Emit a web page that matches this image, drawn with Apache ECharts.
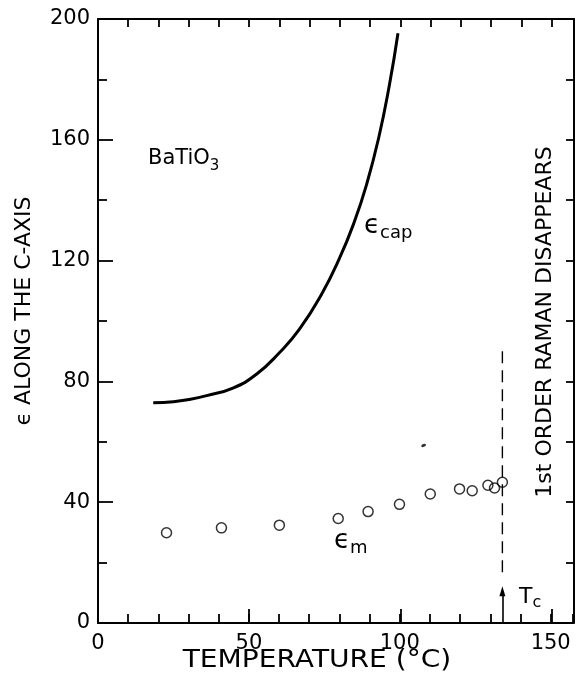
<!DOCTYPE html>
<html>
<head>
<meta charset="utf-8">
<script src="https://cdn.jsdelivr.net/npm/echarts@6/dist/echarts.min.js"></script>
<style>
  html, body { margin: 0; padding: 0; background: #fff; }
  #chart { width: 576px; height: 685px; }
</style>
</head>
<body>
<div id="chart"></div>
<script>
// capacitance curve (eps_cap)
const capTemp = [18.3, 25, 30, 36, 44.7, 52.4, 60.1, 66.7, 74, 80, 85, 89, 93, 96.5, 99.4]
const capEps = [72.9, 73.3, 74, 75.3, 77.8, 82.3, 89.5, 97.2, 108.7, 120.7, 133, 145.2, 160.6, 177.8, 195.3]

// eps_m open circles
const mTemp = [22.7, 40.9, 60.1, 79.6, 89.5, 99.9, 110.1, 119.8, 124, 129.2, 131.4, 134]
const mEps = [29.9, 31.5, 32.4, 34.6, 36.9, 39.3, 42.7, 44.4, 43.8, 45.6, 44.7, 46.6]

// stray speck in the figure
const speck = [[107.9, 58.8]]

const tc = 134
const ramanLine = [90, 15]
const tcArrow = [0, 10.5]

const xMax = 157.4
const yMax = 200
const font = 'DejaVu Sans'

const toPairs = (xs, ys) => xs.map((x, i) => [x, ys[i]])

let chart = echarts.init(document.getElementById('chart'))
let ink = '#000'
// three grids on the same rectangle: main axes, long ticks every 50, top/right frame
const box = { left: 98, right: 2, top: 19, bottom: 62 }
const line = () => ({ show: true, onZero: false, lineStyle: { color: ink, width: 2 } })
const tick = len => ({ show: true, inside: true, length: len, lineStyle: { color: ink, width: 1.8 } })

let option = {
    backgroundColor: '#fff',
    animation: false,
    grid: [box, box, box],
    xAxis: [{
        gridIndex: 0, type: 'value', min: 0, max: xMax, interval: 10,
        axisLine: line(),
        axisTick: tick(9),
        axisLabel: {
            color: ink, fontFamily: font, fontSize: 21, margin: 10,
            formatter: v => (v % 50 === 0 ? String(v) : '')
        },
        splitLine: { show: false }
    }, {
        gridIndex: 1, type: 'value', min: 0, max: xMax, interval: 50,
        axisLine: { show: false, onZero: false },
        axisTick: tick(14),
        axisLabel: { show: false },
        splitLine: { show: false }
    }, {
        gridIndex: 2, type: 'value', min: 0, max: xMax, interval: 10, position: 'top',
        axisLine: line(),
        axisTick: tick(8),
        axisLabel: { show: false },
        splitLine: { show: false }
    }],
    yAxis: [{
        gridIndex: 0, type: 'value', min: 0, max: yMax, interval: 40,
        axisLine: line(),
        axisTick: tick(15),
        minorTick: { show: true, splitNumber: 2, length: 9, lineStyle: { color: ink, width: 1.8 } },
        axisLabel: { color: ink, fontFamily: font, fontSize: 21, margin: 8 },
        splitLine: { show: false },
        minorSplitLine: { show: false }
    }, {
        gridIndex: 1, type: 'value', min: 0, max: yMax, show: false,
        axisLine: { show: false, onZero: false }
    }, {
        gridIndex: 2, type: 'value', min: 0, max: yMax, interval: 20, position: 'right',
        axisLine: line(),
        axisTick: tick(8),
        axisLabel: { show: false },
        splitLine: { show: false }
    }],
    series: [{
        name: 'eps_cap',
        type: 'line',
        xAxisIndex: 0, yAxisIndex: 0,
        data: toPairs(capTemp, capEps),
        smooth: true,
        showSymbol: false,
        lineStyle: { color: ink, width: 3 }
    }, {
        name: 'eps_m',
        type: 'scatter',
        xAxisIndex: 0, yAxisIndex: 0,
        data: toPairs(mTemp, mEps),
        symbol: 'circle',
        symbolSize: 10,
        itemStyle: { color: 'rgba(255,255,255,0)', borderColor: ink, borderWidth: 1.5 }
    }, {
        name: 'speck',
        type: 'scatter',
        xAxisIndex: 0, yAxisIndex: 0,
        data: speck,
        symbol: 'circle',
        symbolSize: [5, 3],
        symbolRotate: 20,
        itemStyle: { color: ink }
    }, {
        name: 'raman',
        type: 'line',
        xAxisIndex: 0, yAxisIndex: 0,
        data: ramanLine.map(v => [tc, v]),
        showSymbol: false,
        lineStyle: { color: ink, width: 1.4, type: [12, 7] },
        markLine: {
            silent: true,
            symbol: ['none', 'triangle'],
            symbolSize: [6, 10],
            label: { show: false },
            lineStyle: { color: ink, width: 1.6, type: 'solid' },
            data: [[{ coord: [tc, tcArrow[0]] }, { coord: [tc, tcArrow[1]] }]]
        }
    }],
    graphic: [{
        type: 'text', x: 148, y: 159,
        style: {
            text: '{n|BaTiO}{s|3}',
            verticalAlign: 'middle',
            rich: {
                n: { fontFamily: font, fontSize: 21, color: ink, lineHeight: 30, verticalAlign: 'middle' },
                s: { fontFamily: font, fontSize: 15, color: ink, lineHeight: 15, verticalAlign: 'bottom' }
            }
        }
    }, {
        type: 'text', x: 364, y: 226,
        style: {
            text: '{n|ϵ}{s|cap}',
            verticalAlign: 'middle',
            rich: {
                n: { fontFamily: font, fontSize: 26, color: ink, lineHeight: 32, verticalAlign: 'middle' },
                s: { fontFamily: font, fontSize: 18, color: ink, lineHeight: 18, verticalAlign: 'bottom' }
            }
        }
    }, {
        type: 'text', x: 334, y: 541,
        style: {
            text: '{n|ϵ}{s|m}',
            verticalAlign: 'middle',
            rich: {
                n: { fontFamily: font, fontSize: 26, color: ink, lineHeight: 32, verticalAlign: 'middle' },
                s: { fontFamily: font, fontSize: 18, color: ink, lineHeight: 18, verticalAlign: 'bottom' }
            }
        }
    }, {
        type: 'text', x: 519, y: 597,
        style: {
            text: '{n|T}{s|c}',
            verticalAlign: 'middle',
            rich: {
                n: { fontFamily: font, fontSize: 22, color: ink, lineHeight: 28, verticalAlign: 'middle' },
                s: { fontFamily: font, fontSize: 16, color: ink, lineHeight: 16, verticalAlign: 'bottom' }
            }
        }
    }, {
        type: 'text', x: 545, y: 322, rotation: Math.PI / 2,
        style: {
            text: '1st ORDER RAMAN DISAPPEARS',
            fontFamily: font, fontSize: 22, fill: ink,
            align: 'center', verticalAlign: 'middle'
        }
    }, {
        type: 'text', x: 24, y: 311, rotation: Math.PI / 2,
        style: {
            text: 'ϵ ALONG THE C-AXIS',
            fontFamily: font, fontSize: 22, fill: ink,
            align: 'center', verticalAlign: 'middle'
        }
    }, {
        type: 'text', x: 317, y: 661, scaleX: 1.17,
        style: {
            text: 'TEMPERATURE (°C)',
            fontFamily: font, fontSize: 24, fill: ink,
            align: 'center', verticalAlign: 'middle'
        }
    }]
}
chart.setOption(option)
</script>
</body>
</html>
